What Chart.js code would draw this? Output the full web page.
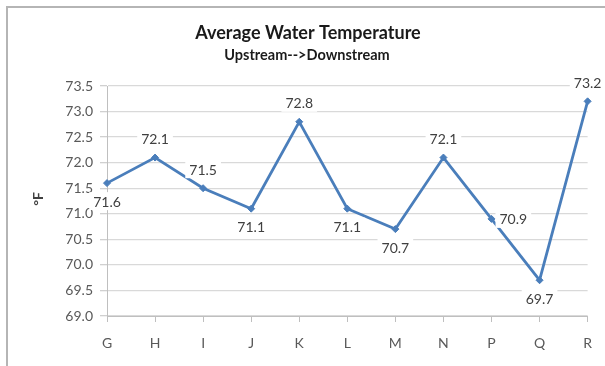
<!DOCTYPE html>
<html>
<head>
<meta charset="utf-8">
<script src="https://cdn.jsdelivr.net/npm/chart.js@4/dist/chart.umd.min.js"></script>
<style>
  html, body { margin: 0; padding: 0; background: #fff; }
  canvas { display: block; }
</style>
</head>
<body>
<canvas id="chart" width="605" height="366"></canvas>
<script>
// Sampling sites, upstream to downstream
const sites = ['G', 'H', 'I', 'J', 'K', 'L', 'M', 'N', 'P', 'Q', 'R'];
// Average water temperature at each site (°F)
const avgTempF = [71.6, 72.1, 71.5, 71.1, 72.8, 71.1, 70.7, 72.1, 70.9, 69.7, 73.2];
// Where each value label sits relative to its point
const labelPlacement = ['below', 'above', 'above', 'below', 'above', 'below', 'below', 'above', 'right', 'below', 'above'];
// Temperature axis range
const yMin = 69.0;
const yMax = 73.5;
const yStep = 0.5;

const chartTitle = 'Average Water Temperature';
const chartSubtitle = 'Upstream-->Downstream';
const yAxisTitle = '°F';

const FONT = 'Lato, "DejaVu Sans", sans-serif';
const LINE_BLUE = '#4a7ebb';

// Outer frame, titles and the rotated unit label
const decorations = {
  id: 'decorations',
  beforeDraw(chart) {
    const ctx = chart.ctx;
    ctx.save();
    ctx.fillStyle = '#ffffff';
    ctx.fillRect(0, 0, chart.width, chart.height);
    ctx.fillStyle = '#b5b5b5';
    ctx.fillRect(6, 6, chart.width - 6, 2);
    ctx.fillRect(6, 6, 2, chart.height - 6);
    ctx.restore();
  },
  afterDraw(chart) {
    const ctx = chart.ctx;
    ctx.save();
    ctx.textAlign = 'center';
    ctx.textBaseline = 'middle';
    ctx.fillStyle = '#1a1a1a';
    ctx.font = 'bold 18px ' + FONT;
    ctx.fillText(chartTitle, 308, 33);
    ctx.font = 'bold 14.5px ' + FONT;
    ctx.fillText(chartSubtitle, 307, 55);
    ctx.translate(38, 199);
    ctx.rotate(-Math.PI / 2);
    ctx.font = 'bold 14px ' + FONT;
    ctx.fillStyle = '#404040';
    ctx.fillText(yAxisTitle, 0, 0);
    ctx.restore();
  }
};

// Value labels on white boxes next to each point
const valueLabels = {
  id: 'valueLabels',
  afterDatasetsDraw(chart) {
    const ctx = chart.ctx;
    const meta = chart.getDatasetMeta(0);
    const values = chart.data.datasets[0].data;
    ctx.save();
    ctx.font = '14px ' + FONT;
    ctx.textBaseline = 'middle';
    meta.data.forEach((pt, i) => {
      const text = values[i].toFixed(1);
      const w = ctx.measureText(text).width;
      const where = labelPlacement[i];
      let cx = pt.x, cy = pt.y;
      if (where === 'above') cy = pt.y - 19;
      else if (where === 'below') cy = pt.y + 18;
      else if (where === 'right') cx = pt.x + 8 + w / 2;
      ctx.fillStyle = '#ffffff';
      ctx.fillRect(cx - w / 2 - 4, cy - 9, w + 8, 18);
      ctx.fillStyle = '#404040';
      ctx.textAlign = 'center';
      ctx.fillText(text, cx, cy + 1);
    });
    ctx.restore();
  }
};

new Chart(document.getElementById('chart'), {
  type: 'line',
  data: {
    labels: sites,
    datasets: [{
      data: avgTempF,
      borderColor: LINE_BLUE,
      backgroundColor: LINE_BLUE,
      borderWidth: 2.8,
      tension: 0,
      pointStyle: 'rectRot',
      pointRadius: 3.5,
      pointBackgroundColor: LINE_BLUE,
      pointBorderColor: LINE_BLUE,
      pointBorderWidth: 1,
      clip: false
    }]
  },
  options: {
    responsive: false,
    animation: false,
    devicePixelRatio: 1,
    layout: { padding: { top: 86, right: 16, bottom: 10, left: 0 } },
    plugins: {
      legend: { display: false },
      title: { display: false },
      tooltip: { enabled: false }
    },
    scales: {
      x: {
        offset: false,
        grid: {
          drawOnChartArea: false,
          drawTicks: true,
          tickLength: 6,
          color: '#bfbfbf'
        },
        border: { color: '#bfbfbf', width: 1 },
        ticks: {
          padding: 13,
          color: '#595959',
          font: { family: FONT, size: 14 },
          maxRotation: 0,
          autoSkip: false
        },
        afterFit(scale) { scale.height = 40; }
      },
      y: {
        min: yMin,
        max: yMax,
        grid: {
          color: '#d9d9d9',
          lineWidth: 1.3,
          drawTicks: true,
          tickLength: 7,
          tickColor: '#d0d0d0'
        },
        border: { color: '#bfbfbf', width: 1 },
        ticks: {
          stepSize: yStep,
          padding: 7,
          color: '#595959',
          font: { family: FONT, size: 14 },
          callback: (v) => Number(v).toFixed(1)
        },
        afterFit(scale) { scale.width = 107; }
      }
    }
  },
  plugins: [decorations, valueLabels]
});
</script>
</body>
</html>
